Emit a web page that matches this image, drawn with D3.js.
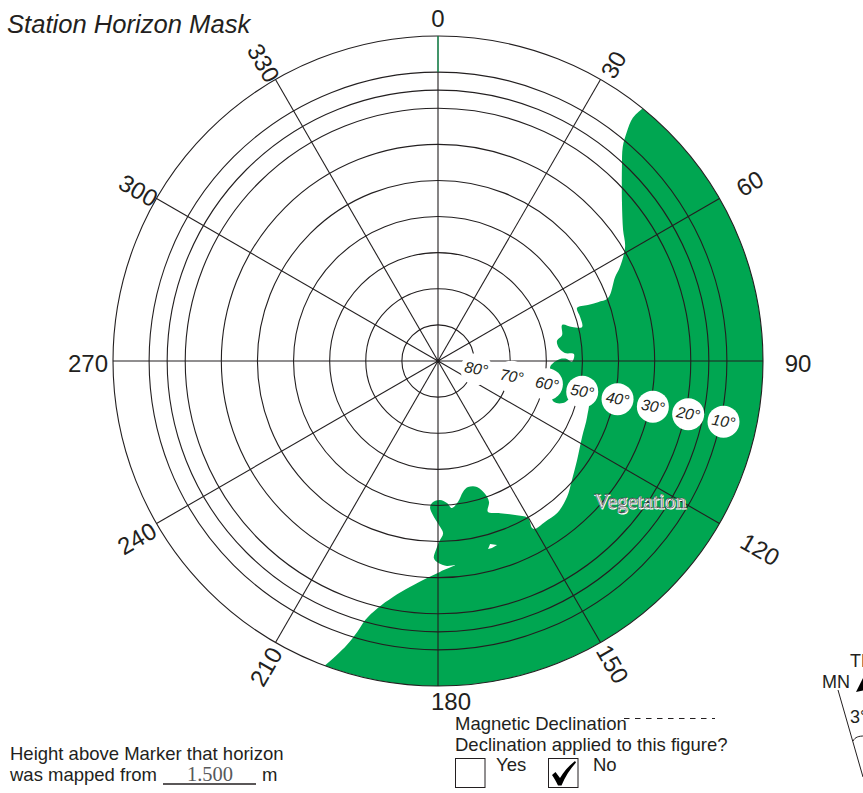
<!DOCTYPE html>
<html>
<head>
<meta charset="utf-8">
<script src="https://cdn.jsdelivr.net/npm/d3@7"></script>
<style>
  body { margin: 0; background: #fff; }
  svg { display: block; }
  text { font-family: "Liberation Sans", Arial, sans-serif; fill: #231f20; }
</style>
</head>
<body>
<div id="chart"></div>
<script>
/* Station horizon mask: polar plot, azimuth clockwise from north, elevation inward */

// horizon outline (azimuth deg, elevation deg)
const horizonAz = [39.0, 38.7, 39.5, 40.8, 43.5, 49.3, 54.7, 58.6, 62.7, 64.6,
  69.7, 69.8, 69.5, 69.1, 72.8, 76.7, 75.8, 73.8, 78.2, 80.5,
  83.9, 86.4, 87.1, 90.4, 89.1, 89.1, 91.0, 93.1, 99.5, 106.7,
  109.5, 108.6, 105.4, 104.6, 110.6, 117.8, 125.5, 131.6, 136.5, 141.9,
  146.4, 150.0, 150.6, 150.2, 153.4, 157.8, 161.7, 160.1, 160.5, 162.8,
  166.6, 169.2, 171.9, 174.6, 176.4, 179.2, 182.0, 183.1, 181.9, 179.7,
  178.3, 179.7, 180.6, 181.2, 180.0, 177.5, 175.2, 179.5, 183.9, 187.1,
  190.8, 193.7, 195.7, 196.6, 197.8, 199.0, 200.4];
const horizonEl = [0, 3.7, 7.8, 11.7, 16.0, 22.8, 27.2, 29.3, 33.3, 35.7,
  39.8, 42.8, 45.7, 48.8, 48.8, 49.0, 51.7, 54.2, 54.9, 56.6,
  56.3, 54.8, 52.3, 52.9, 54.3, 56.2, 58.1, 58.9, 58.0, 57.3,
  55.9, 53.5, 51.5, 47.1, 45.9, 44.9, 42.7, 40.4, 38.1, 36.5,
  36.5, 36.3, 36.9, 39.9, 42.3, 44.5, 46.0, 48.5, 50.9, 53.5,
  54.1, 53.1, 50.6, 49.1, 50.6, 51.5, 50.9, 49.5, 47.3, 44.6,
  42.3, 39.9, 37.7, 35.4, 34.1, 33.2, 33.3, 31.6, 29.2, 26.9,
  23.5, 19.6, 15.5, 11.7, 7.4, 3.9, 0];

// small clear patch inside the vegetation
const holeAz = [165.1, 164.1, 162.2, 163.9];
const holeEl = [36.1, 37.3, 36.5, 36.1];

const azimuthTicks = [0, 30, 60, 90, 120, 150, 180, 210, 240, 270, 300, 330];
const elevationRings = [80, 70, 60, 50, 40, 30, 20, 15, 10, 0];
const elevationLabels = [80, 70, 60, 50, 40, 30, 20, 10];
const elevationLabelAz = 102;

const width = 863, height = 793;
const cx = 438, cy = 361, outerR = 325;
const ink = "#231f20", green = "#00a651";

const svg = d3.select("#chart").append("svg")
  .attr("width", width)
  .attr("height", height)
  .attr("viewBox", [0, 0, width, height]);

const angle = d3.scaleLinear().domain([0, 360]).range([0, 2 * Math.PI]);
const radius = d3.scaleLinear().domain([90, 0]).range([0, outerR]);

// screen position of an azimuth and a radius
const polar = (az, r) => [
  cx + r * Math.sin(angle(az)),
  cy - r * Math.cos(angle(az))
];

const plot = svg.append("g").attr("transform", `translate(${cx},${cy})`);

const radial = d3.lineRadial()
  .angle(d => angle(d[0]))
  .radius(d => radius(d[1]));

// vegetation: traced outline, then back along the outer ring
const outline = d3.zip(horizonAz, horizonEl);
const outlinePath = radial.curve(d3.curveCatmullRom.alpha(0.5))(outline);
const first = d3.pointRadial(angle(horizonAz[0]), outerR);
const closing = `A${outerR},${outerR} 0 0 0 ${first[0]},${first[1]}Z`;

plot.append("path")
  .attr("d", outlinePath + closing)
  .attr("fill", green);

plot.append("path")
  .attr("d", radial.curve(d3.curveLinearClosed)(d3.zip(holeAz, holeEl)))
  .attr("fill", "#fff");

// rings
plot.selectAll(".ring")
  .data(elevationRings)
  .join("circle")
  .attr("class", "ring")
  .attr("r", d => radius(d))
  .attr("fill", "none")
  .attr("stroke", ink)
  .attr("stroke-width", 1.1);

// elevation labels sit in white discs on one radial
const labelPos = d => polar(elevationLabelAz, radius(d) + 3);

svg.append("g")
  .selectAll("circle")
  .data(elevationLabels)
  .join("circle")
  .attr("transform", d => `translate(${labelPos(d)})`)
  .attr("r", 16)
  .attr("fill", "#fff");

// spokes stay unbroken over the discs
plot.selectAll(".spoke")
  .data(azimuthTicks)
  .join("line")
  .attr("class", "spoke")
  .attr("x2", d => d3.pointRadial(angle(d), outerR)[0])
  .attr("y2", d => d3.pointRadial(angle(d), outerR)[1])
  .attr("stroke", ink)
  .attr("stroke-width", 1.1);

// the top of the north spoke shows green in the original
plot.append("line")
  .attr("y1", -radius(0))
  .attr("y2", -radius(10))
  .attr("stroke", green)
  .attr("stroke-width", 1);

plot.append("circle")
  .attr("r", 2)
  .attr("fill", ink);

svg.append("g")
  .selectAll("text")
  .data(elevationLabels)
  .join("text")
  .attr("transform", d => `translate(${labelPos(d)}) rotate(10)`)
  .attr("text-anchor", "middle")
  .attr("y", 5)
  .attr("font-size", 15.5)
  .attr("font-style", "italic")
  .text(d => d + "°");

// azimuth labels, distance and nudge picked per label to follow the original
const tickDistance = { 0: 345, 30: 345, 60: 360, 90: 360, 120: 372, 150: 347, 180: 340, 210: 350, 240: 350, 270: 350, 300: 346, 330: 347 };
const tickNudge = { 30: 3, 180: 13, 210: 3, 240: 2, 150: 1, 330: -1 };
const tickRotate = d => {
  if (d === 0 || d === 90 || d === 180 || d === 270) return 0;
  return d < 180 ? d - 90 : d - 270;
};

svg.append("g")
  .selectAll("text")
  .data(azimuthTicks)
  .join("text")
  .attr("text-anchor", "middle")
  .attr("dominant-baseline", "central")
  .attr("font-size", 24)
  .attr("transform", d => {
    const [x, y] = polar(d, tickDistance[d]);
    return `translate(${x + (tickNudge[d] || 0)},${y + (d === 180 ? 0 : 2.5)}) rotate(${tickRotate(d)})`;
  })
  .text(d => d);

// embossed label: white halo with thin dark letters on top
svg.append("text")
  .attr("x", 640.6).attr("y", 508.6)
  .attr("text-anchor", "middle")
  .attr("font-size", 21.5)
  .style("font-family", "'Liberation Serif', serif")
  .style("fill", "#fff")
  .attr("stroke", "#fff")
  .attr("stroke-width", 1)
  .text("Vegetation");
svg.append("text")
  .attr("x", 640).attr("y", 508)
  .attr("text-anchor", "middle")
  .attr("font-size", 21.5)
  .style("font-family", "'Liberation Serif', serif")
  .style("fill", "#f2f2f2")
  .attr("stroke", "#333")
  .attr("stroke-width", 0.5)
  .text("Vegetation");

svg.append("text")
  .attr("x", 7).attr("y", 33)
  .attr("font-size", 25.6)
  .attr("font-style", "italic")
  .text("Station Horizon Mask");

// notes, bottom left
const note = (x, y, s, size = 18.5) => svg.append("text")
  .attr("x", x).attr("y", y).attr("font-size", size).text(s);

note(10, 760, "Height above Marker that horizon");
note(10, 781, "was mapped from");
note(262, 781, "m");
svg.append("line")
  .attr("x1", 163).attr("x2", 256)
  .attr("y1", 784).attr("y2", 784)
  .attr("stroke", ink).attr("stroke-width", 1.5);
svg.append("text")
  .attr("x", 210).attr("y", 781)
  .attr("text-anchor", "middle")
  .attr("font-size", 20.5)
  .style("font-family", "'Liberation Serif', serif")
  .style("fill", "#58595b")
  .text("1.500");

// declination block
note(455, 730, "Magnetic Declination");
note(455, 751, "Declination applied to this figure?");
note(496, 771, "Yes");
note(593, 771, "No");

svg.append("line")
  .attr("x1", 624).attr("x2", 715)
  .attr("y1", 718.5).attr("y2", 718.5)
  .attr("stroke", ink)
  .attr("stroke-width", 1.2)
  .attr("stroke-dasharray", "5.5 5.5");

svg.selectAll(".box")
  .data([455, 548])
  .join("rect")
  .attr("class", "box")
  .attr("x", d => d + 0.5).attr("y", 758.5)
  .attr("width", 29.5).attr("height", 29)
  .attr("fill", "none")
  .attr("stroke", ink);

svg.append("path")
  .attr("d", "M552,775 L555.5,772 L560,778 C564,771 569,766 575,761 L576,762.5 C570,769 565,777 561.5,785.5 L558,785.5 C556,781 554,778 552,775Z")
  .attr("fill", "#000");

// declination diagram, cut off by the page edge as in the original
note(850, 667, "TN", 18);
note(822, 688, "MN", 18);
note(850, 723, "3°", 18);
svg.append("line")
  .attr("x1", 838).attr("y1", 690)
  .attr("x2", 863).attr("y2", 777)
  .attr("stroke", ink);
svg.append("path")
  .attr("d", "M856,692 L865,674 L865,690Z")
  .attr("fill", "#000");
svg.append("path")
  .attr("d", "M853,741 C855,737 859,736 864,736")
  .attr("fill", "none")
  .attr("stroke", ink);
</script>
</body>
</html>
